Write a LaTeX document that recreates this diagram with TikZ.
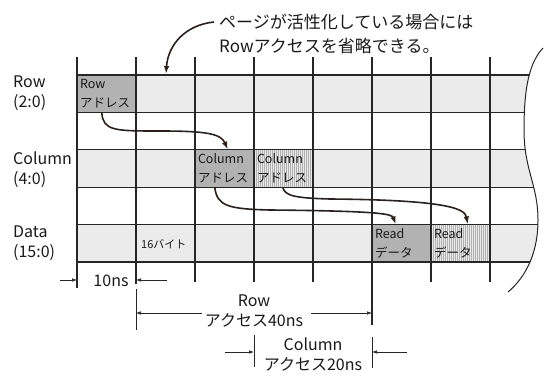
\documentclass[tikz,border=0pt]{standalone}
\usepackage{fontspec}
\setmainfont{Noto Sans CJK JP}
\usetikzlibrary{arrows.meta}
\newcommand\cellfnt{\fontsize{12.5}{19}\selectfont}
\newcommand\lblfnt{\fontsize{16}{20}\selectfont}
\newcommand\annfnt{\fontsize{17}{24}\selectfont}
\definecolor{ink}{HTML}{2A211C}
\tikzset{
  gridline/.style={line width=1.1pt, draw=black!85},
  bandfill/.style={fill=black!8},
  cellbox/.style={minimum width=59pt, minimum height=37.4pt, inner xsep=3pt, inner ysep=0pt,
    text width=53pt, align=left, font=\cellfnt, text=black!90},
  darkcell/.style={cellbox, fill=black!30},
  hatchcell/.style={cellbox, fill=black!9,
    path picture={\foreach \i in {1,...,29}
      \draw[black!30, line width=0.35pt]
        ([xshift=2*\i pt]path picture bounding box.south west) --
        ([xshift=2*\i pt]path picture bounding box.north west);}},
  lbl/.style={font=\lblfnt, inner sep=0pt, text=black!90},
  flow/.style={draw=ink, line width=1.6pt, -{Latex[length=8pt,width=5.5pt]}},
  dim/.style={draw=black!85, line width=0.6pt, -{Latex[length=5pt,width=3.5pt]}},
  ext/.style={draw=black!85, line width=0.8pt},
}
\begin{document}
\begin{tikzpicture}[x=1pt,y=-1pt]
\useasboundingbox (0,0) rectangle (545,377);
% bands, clipped by the break curve
\begin{scope}
  \clip (70,40) -- (543,40) -- (543,48) .. controls (530,62) and (524,85) .. (524,130)
        .. controls (524,170) and (538,185) .. (538,220)
        .. controls (538,250) and (528,275) .. (508,292) -- (70,292) -- cycle;
  \fill[bandfill] (77,75) rectangle (545,112.4);
  \fill[bandfill] (77,149.8) rectangle (545,187.2);
  \fill[bandfill] (77,224.6) rectangle (545,262);
  \foreach \y in {75,112.4,149.8,187.2,224.6,262}
    \draw[gridline] (77,\y) -- (545,\y);
\end{scope}
% break curve
\draw[line width=1pt, black!85] (543,48) .. controls (530,62) and (524,85) .. (524,130)
        .. controls (524,170) and (538,185) .. (538,220)
        .. controls (538,250) and (528,275) .. (508,292);
% cells with text
\node[darkcell] (rowaddr) at (106.5,93.7) {Row\\アドレス};
\node[darkcell] (coladdr1) at (224.5,168.5) {Column\\アドレス};
\node[hatchcell] (coladdr2) at (283.5,168.5) {Column\\アドレス};
\node[darkcell] (read1) at (401.5,243.3) {Read\\データ};
\node[hatchcell] (read2) at (460.5,243.3) {Read\\データ};
\node[font=\fontsize{11}{13}\selectfont, anchor=west, inner sep=0pt, text=black!90] (bytes) at (141,244) {16バイト};
% horizontal lines redrawn over cells
\foreach \y in {75,112.4,149.8,187.2,224.6,262}
  \draw[gridline] (77,\y) -- (500,\y);
% vertical lines
\draw[gridline] (77,57) -- (77,288);
\draw[gridline] (136,57) -- (136,284);
\draw[gridline] (195,57) -- (195,282);
\draw[gridline] (254,57) -- (254,282);
\draw[gridline] (313,57) -- (313,282);
\draw[gridline] (372,57) -- (372,325);
\draw[gridline] (431,57) -- (431,282);
\draw[gridline] (490,57) -- (490,282);
% extension lines
\draw[ext] (136,289) -- (136,330);
\draw[ext] (254,335) -- (254,367);
\draw[ext] (372,337) -- (372,368);
% row labels
\node[lbl, anchor=west, align=left] (lrow) at (13,93.5) {Row\\(2:0)};
\node[lbl, anchor=west, align=left] (lcol) at (13,170) {Column\\(4:0)};
\node[lbl, anchor=west, align=left] (ldata) at (13,243.5) {Data\\(15:0)};
% annotation
\node[font=\annfnt, anchor=west, inner sep=0pt, text=black!90] (ann1) at (219,22) {ページが活性化している場合には};
\node[font=\annfnt, anchor=west, inner sep=0pt, text=black!90] (ann2) at (219,46) {Rowアクセスを省略できる。};
\draw[flow] ([xshift=-5pt]ann1.west) .. controls (185,25) and (168,45) .. (166,74);
% flow arrows
\draw[flow] ([xshift=25pt]rowaddr.south west) .. controls (103,131) and (115,131) .. (160,131)
   .. controls (208,131) and (221,134) .. ([xshift=33pt]coladdr1.north west);
\draw[flow] ([xshift=20pt]coladdr1.south west) .. controls (217,206) and (228,209) .. (270,210)
   .. controls (380,211) and (392,214) .. ([xshift=24pt]read1.north west);
\draw[flow] ([xshift=29pt]coladdr2.south west) .. controls (285,196) and (295,198) .. (330,199)
   .. controls (455,200) and (465,210) .. ([xshift=37pt]read2.north west);
% timing labels
\node[lbl] (t10) at (111,281) {10ns};
\node[lbl, align=center] (trow) at (254,311) {Row\\アクセス40ns};
\node[lbl, align=center] (tcol) at (313,354) {Column\\アクセス20ns};
% dimension arrows
\coordinate (a1) at (60,280);
\coordinate (a2) at (77,280);
\coordinate (a3) at (167,280);
\coordinate (a4) at (136,280);
\draw[dim] (a1) -- (a2);
\draw[dim] (a3) -- (a4);
\coordinate (r1) at (202,313);
\coordinate (r2) at (136,313);
\coordinate (r3) at (311,313);
\coordinate (r4) at (372,313);
\draw[dim] (r1) -- (r2);
\draw[dim] (r3) -- (r4);
\coordinate (c1) at (225,352);
\coordinate (c2) at (254,352);
\coordinate (c3) at (407,352);
\coordinate (c4) at (372,352);
\draw[dim] (c1) -- (c2);
\draw[dim] (c3) -- (c4);
\end{tikzpicture}
\end{document}
